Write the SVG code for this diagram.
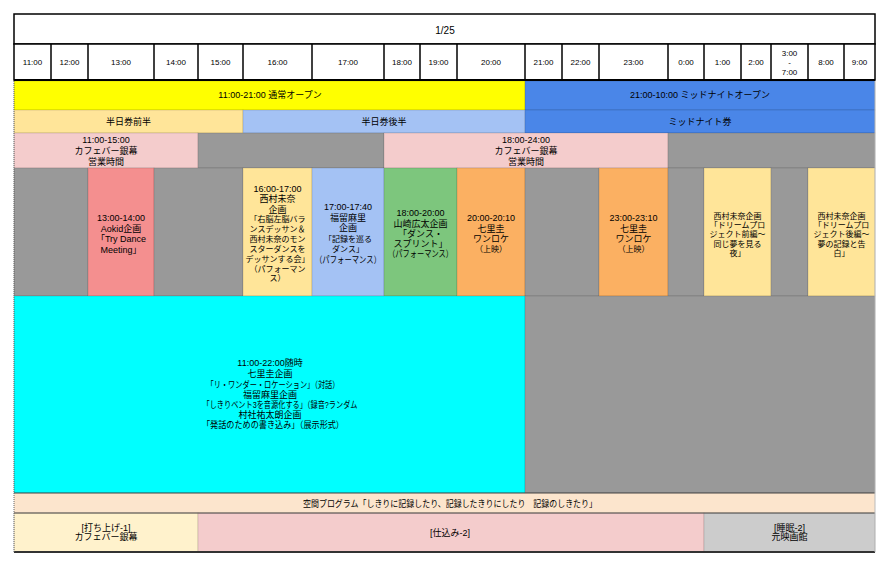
<svg xmlns="http://www.w3.org/2000/svg" width="890" height="568" viewBox="0 0 890 568">
<style>
text{font-family:"Liberation Sans","Noto Sans CJK JP",sans-serif;font-size:9px;fill:#000;text-anchor:middle;dominant-baseline:central}
.h{font-size:8px}
.s{font-size:8px}
.c{stroke:#000;stroke-opacity:0.12;stroke-width:1}
.hd{fill:#fff;stroke:#000;stroke-width:1.5}
</style>
<rect width="890" height="568" fill="#fff"/>

<g id="title">
<rect class="hd" x="14" y="14" width="861" height="30"/>
<text x="445" y="30" style="font-size:10px">1/25</text>
</g>

<g id="time-header">
<rect class="hd" x="14" y="44" width="861" height="36"/>
<g stroke="#000" stroke-width="1.5">
<line x1="51" y1="44" x2="51" y2="80"/><line x1="88" y1="44" x2="88" y2="80"/><line x1="154" y1="44" x2="154" y2="80"/>
<line x1="198" y1="44" x2="198" y2="80"/><line x1="243" y1="44" x2="243" y2="80"/><line x1="312" y1="44" x2="312" y2="80"/>
<line x1="384" y1="44" x2="384" y2="80"/><line x1="420" y1="44" x2="420" y2="80"/><line x1="457" y1="44" x2="457" y2="80"/>
<line x1="525" y1="44" x2="525" y2="80"/><line x1="562" y1="44" x2="562" y2="80"/><line x1="599" y1="44" x2="599" y2="80"/>
<line x1="668" y1="44" x2="668" y2="80"/><line x1="704" y1="44" x2="704" y2="80"/><line x1="741" y1="44" x2="741" y2="80"/>
<line x1="771" y1="44" x2="771" y2="80"/><line x1="808" y1="44" x2="808" y2="80"/><line x1="844" y1="44" x2="844" y2="80"/>
</g>
<text class="h" x="32.5" y="62">11:00</text>
<text class="h" x="69.5" y="62">12:00</text>
<text class="h" x="121" y="62">13:00</text>
<text class="h" x="176" y="62">14:00</text>
<text class="h" x="220.5" y="62">15:00</text>
<text class="h" x="277.5" y="62">16:00</text>
<text class="h" x="348" y="62">17:00</text>
<text class="h" x="402" y="62">18:00</text>
<text class="h" x="438.5" y="62">19:00</text>
<text class="h" x="491" y="62">20:00</text>
<text class="h" x="543.5" y="62">21:00</text>
<text class="h" x="580.5" y="62">22:00</text>
<text class="h" x="633.5" y="62">23:00</text>
<text class="h" x="686" y="62">0:00</text>
<text class="h" x="722.5" y="62">1:00</text>
<text class="h" x="756" y="62">2:00</text>
<text class="h" x="789.5" y="53">3:00</text>
<text class="h" x="789.5" y="62">-</text>
<text class="h" x="789.5" y="72">7:00</text>
<text class="h" x="826" y="62">8:00</text>
<text class="h" x="859.5" y="62">9:00</text>
</g>

<g id="open-normal">
<rect class="c" x="14" y="81" width="511" height="29" fill="#ffff00"/>
<text x="270" y="95">11:00-21:00 通常オープン</text>
</g>
<g id="open-midnight">
<rect class="c" x="525" y="81" width="350" height="29" fill="#4a86e8"/>
<text x="700" y="95">21:00-10:00 ミッドナイトオープン</text>
</g>

<g id="ticket-first-half">
<rect class="c" x="14" y="110" width="229" height="23" fill="#ffe599"/>
<text x="128.5" y="122">半日券前半</text>
</g>
<g id="ticket-second-half">
<rect class="c" x="243" y="110" width="282" height="23" fill="#a4c2f4"/>
<text x="384" y="122">半日券後半</text>
</g>
<g id="ticket-midnight">
<rect class="c" x="525" y="110" width="350" height="23" fill="#4a86e8"/>
<text x="700" y="122">ミッドナイト券</text>
</g>

<g id="cafe-1">
<rect class="c" x="14" y="133" width="184" height="35" fill="#f4cccc"/>
<text x="106" y="140">11:00-15:00</text>
<text x="106" y="151">カフェバー銀幕</text>
<text x="106" y="162">営業時間</text>
</g>
<g id="cafe-gap-1"><rect class="c" x="198" y="133" width="186" height="35" fill="#999999"/></g>
<g id="cafe-2">
<rect class="c" x="384" y="133" width="284" height="35" fill="#f4cccc"/>
<text x="526" y="140">18:00-24:00</text>
<text x="526" y="151">カフェバー銀幕</text>
<text x="526" y="162">営業時間</text>
</g>
<g id="cafe-gap-2"><rect class="c" x="668" y="133" width="207" height="35" fill="#999999"/></g>

<g id="ev-gap-1"><rect class="c" x="14" y="168" width="74" height="128" fill="#999999"/></g>
<g id="ev-aokid">
<rect class="c" x="88" y="168" width="66" height="128" fill="#f48f8f"/>
<text x="121" y="218">13:00-14:00</text>
<text x="121" y="228.5">Aokid企画</text>
<text x="121" y="239">「Try Dance</text>
<text x="121" y="249.5">Meeting」</text>
</g>
<g id="ev-gap-2"><rect class="c" x="154" y="168" width="89" height="128" fill="#999999"/></g>
<g id="ev-nishimura-1">
<rect class="c" x="243" y="168" width="69" height="128" fill="#ffe599"/>
<text x="277.5" y="189">16:00-17:00</text>
<text x="277.5" y="199">西村未奈</text>
<text x="277.5" y="209.5">企画</text>
<text class="s" x="277.5" y="219.5">「右脳左脳バラ</text>
<text class="s" x="277.5" y="229.5">ンスデッサン＆</text>
<text class="s" x="277.5" y="239.5">西村未奈のモン</text>
<text class="s" x="277.5" y="249">スターダンスを</text>
<text class="s" x="277.5" y="259">デッサンする会」</text>
<text class="s" x="277.5" y="269">（パフォーマン</text>
<text class="s" x="277.5" y="278">ス）</text>
</g>
<g id="ev-fukutome">
<rect class="c" x="312" y="168" width="72" height="128" fill="#a4c2f4"/>
<text x="348" y="207">17:00-17:40</text>
<text x="348" y="218">福留麻里</text>
<text x="348" y="228">企画</text>
<text class="s" x="348" y="239">「記録を巡る</text>
<text class="s" x="348" y="249">ダンス」</text>
<text x="348" y="260" textLength="66" lengthAdjust="spacingAndGlyphs">（パフォーマンス）</text>
</g>
<g id="ev-yamazaki">
<rect class="c" x="384" y="168" width="73" height="128" fill="#7dc67d"/>
<text x="420.5" y="213">18:00-20:00</text>
<text x="420.5" y="224">山崎広太企画</text>
<text x="420.5" y="234">「ダンス・</text>
<text x="420.5" y="244">スプリント」</text>
<text x="420.5" y="254" textLength="65" lengthAdjust="spacingAndGlyphs">（パフォーマンス）</text>
</g>
<g id="ev-shichiri-1">
<rect class="c" x="457" y="168" width="68" height="128" fill="#fbb062"/>
<text x="491" y="218">20:00-20:10</text>
<text x="491" y="228.5">七里圭</text>
<text x="491" y="239">ワンロケ</text>
<text class="s" x="491" y="249">（上映）</text>
</g>
<g id="ev-gap-3"><rect class="c" x="525" y="168" width="74" height="128" fill="#999999"/></g>
<g id="ev-shichiri-2">
<rect class="c" x="599" y="168" width="69" height="128" fill="#fbb062"/>
<text x="633.5" y="218">23:00-23:10</text>
<text x="633.5" y="228.5">七里圭</text>
<text x="633.5" y="239">ワンロケ</text>
<text class="s" x="633.5" y="249">（上映）</text>
</g>
<g id="ev-gap-4"><rect class="c" x="668" y="168" width="36" height="128" fill="#999999"/></g>
<g id="ev-nishimura-2">
<rect class="c" x="704" y="168" width="67" height="128" fill="#ffe599"/>
<text class="s" x="737.5" y="216">西村未奈企画</text>
<text class="s" x="737.5" y="225.5">「ドリームプロ</text>
<text class="s" x="737.5" y="234.5">ジェクト前編～</text>
<text class="s" x="737.5" y="244">同じ夢を見る</text>
<text class="s" x="737.5" y="253">夜」</text>
</g>
<g id="ev-gap-5"><rect class="c" x="771" y="168" width="37" height="128" fill="#999999"/></g>
<g id="ev-nishimura-3">
<rect class="c" x="808" y="168" width="67" height="128" fill="#ffe599"/>
<text class="s" x="841.5" y="216">西村未奈企画</text>
<text class="s" x="841.5" y="225.5">「ドリームプロ</text>
<text class="s" x="841.5" y="234.5">ジェクト後編～</text>
<text class="s" x="841.5" y="244">夢の記録と告</text>
<text class="s" x="841.5" y="253">白」</text>
</g>

<g id="all-day">
<rect class="c" x="14" y="296" width="511" height="197" fill="#00ffff"/>
<text x="270" y="363">11:00-22:00随時</text>
<text x="270" y="374">七里圭企画</text>
<text x="273" y="385" textLength="133" lengthAdjust="spacingAndGlyphs">「リ・ワンダー・ロケーション」（対話）</text>
<text x="270" y="394.5">福留麻里企画</text>
<text x="280" y="405" textLength="155" lengthAdjust="spacingAndGlyphs">「しきりベント3を音源化する」（録音?ランダム</text>
<text x="270" y="414.5">村社祐太朗企画</text>
<text x="273" y="425" textLength="142" lengthAdjust="spacingAndGlyphs">「発話のための書き込み」（展示形式）</text>
</g>
<g id="night-gap"><rect class="c" x="525" y="296" width="350" height="197" fill="#999999"/></g>

<g id="space-program">
<rect x="14" y="493" width="861" height="20" fill="#fce5cd"/>
<text x="450" y="504" textLength="294" lengthAdjust="spacingAndGlyphs">空間プログラム「しきりに記録したり、記録したきりにしたり　記録のしきたり」</text>
</g>

<g id="uchiage">
<rect class="c" x="14" y="513" width="184" height="39" fill="#fff2cc"/>
<text x="106" y="528">[打ち上げ-1]</text>
<text x="106" y="537">カフェバー銀幕</text>
</g>
<g id="shikomi">
<rect class="c" x="198" y="513" width="506" height="39" fill="#f4cccc"/>
<text x="450" y="533">[仕込み-2]</text>
</g>
<g id="suimin">
<rect class="c" x="704" y="513" width="171" height="39" fill="#cccccc"/>
<text x="789.5" y="528">[睡眠-2]</text>
<text x="789.5" y="537">元映画館</text>
</g>

<g id="frame" fill="none">
<line x1="14" y1="80" x2="875" y2="80" stroke="#000" stroke-width="2"/>
<line x1="14" y1="493" x2="875" y2="493" stroke="#444" stroke-width="1"/>
<line x1="14" y1="513" x2="875" y2="513" stroke="#444" stroke-width="1"/>
<line x1="14" y1="552" x2="875" y2="552" stroke="#333" stroke-width="2"/>
<line x1="14" y1="81" x2="14" y2="552" stroke="#666" stroke-width="1" stroke-dasharray="1,1"/>
<line x1="875" y1="81" x2="875" y2="552" stroke="#bbb" stroke-width="1"/>
</g>
</svg>
